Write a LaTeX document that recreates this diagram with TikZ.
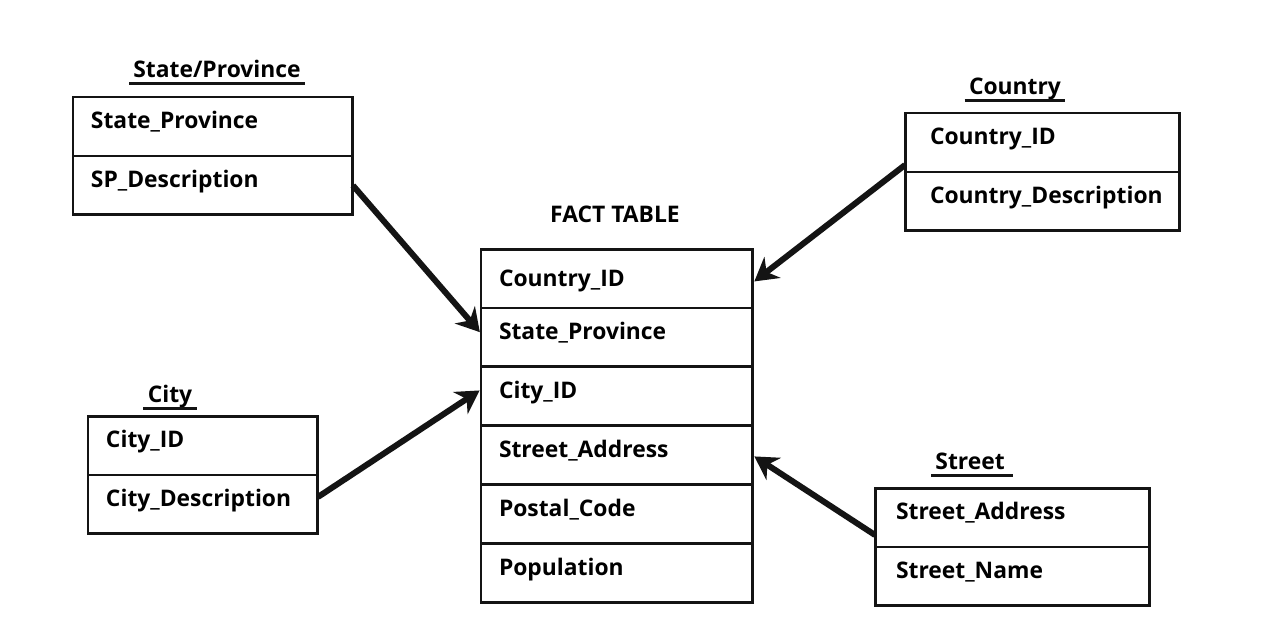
\documentclass[tikz,border=0pt]{standalone}
\usepackage{fontspec}
\setmainfont{Open Sans}
\usepackage{tikz}
\usetikzlibrary{arrows.meta,positioning}
\usepackage{xcolor}
\definecolor{erink}{RGB}{20,20,20}
\tikzstyle{field} = [draw=erink, line width=1.7pt, rectangle, outer sep=0pt, inner xsep=0.36cm, inner ysep=0pt, text height=0.63cm, text depth=0.55cm, align=left, font=\bfseries\fontsize{13}{15}\selectfont]
\tikzstyle{tabtitle} = [inner xsep=0.08cm, inner ysep=0.08cm, text height=0.36cm, text depth=0.04cm, font=\bfseries\fontsize{13}{15}\selectfont, append after command={(\tikzlastnode.south west) edge[draw=erink, line width=1.7pt] (\tikzlastnode.south east)}]
\tikzstyle{fkarrow} = [draw=erink, line width=3.4pt, -{Stealth[length=13pt,width=15pt]}, shorten >=1pt]

\begin{document}
\begin{tikzpicture}[x=0.02cm, y=-0.02cm]
\useasboundingbox[fill=white] (0,0) rectangle (1261,616);

% State/Province table
\node[tabtitle] (spt) at (217,69) {State/Province};
\node[field, text width=4.88cm, anchor=north west] (sp1) at (73,97) {State\_Province};
\node[field, text width=4.88cm, below=0pt of sp1] (sp2) {SP\_Description};

% City table
\node[tabtitle] (ct) at (170,394) {City};
\node[field, text width=3.88cm, anchor=north west] (c1) at (88,416) {City\_ID};
\node[field, text width=3.88cm, below=0pt of c1] (c2) {City\_Description};

% Country table
\node[tabtitle] (cot) at (1015,86) {Country\ };
\node[field, inner xsep=0.5cm, text width=4.5cm, anchor=north west] (co1) at (905,113) {Country\_ID};
\node[field, inner xsep=0.5cm, text width=4.5cm, below=0pt of co1] (co2) {Country\_Description};

% Street table
\node[tabtitle] (stt) at (972,461) {Street\,};
\node[field, inner xsep=0.42cm, text width=4.66cm, anchor=north west] (st1) at (875,488) {Street\_Address};
\node[field, inner xsep=0.42cm, text width=4.66cm, below=0pt of st1] (st2) {Street\_Name};

% Fact table
\node[font=\bfseries\fontsize{13}{15}\selectfont] (ft) at (615,214) {FACT TABLE};
\node[field, text width=4.72cm, text height=0.76cm, text depth=0.42cm, anchor=north west] (f1) at (481,249) {Country\_ID};
\node[field, text width=4.72cm, below=0pt of f1] (f2) {State\_Province};
\node[field, text width=4.72cm, below=0pt of f2] (f3) {City\_ID};
\node[field, text width=4.72cm, below=0pt of f3] (f4) {Street\_Address};
\node[field, text width=4.72cm, below=0pt of f4] (f5) {Postal\_Code};
\node[field, text width=4.72cm, below=0pt of f5] (f6) {Population};

% Foreign keys
\draw[fkarrow] (sp2.east) -- ([yshift=0.08cm]f2.west);
\draw[fkarrow] ([yshift=0.15cm]c2.east) -- ([yshift=0.14cm]f3.west);
\draw[fkarrow] ([yshift=0.14cm]co1.south west) -- ([yshift=-0.08cm]f1.east);
\draw[fkarrow] ([yshift=0.24cm]st1.south west) -- (f4.east);
\end{tikzpicture}
\end{document}
